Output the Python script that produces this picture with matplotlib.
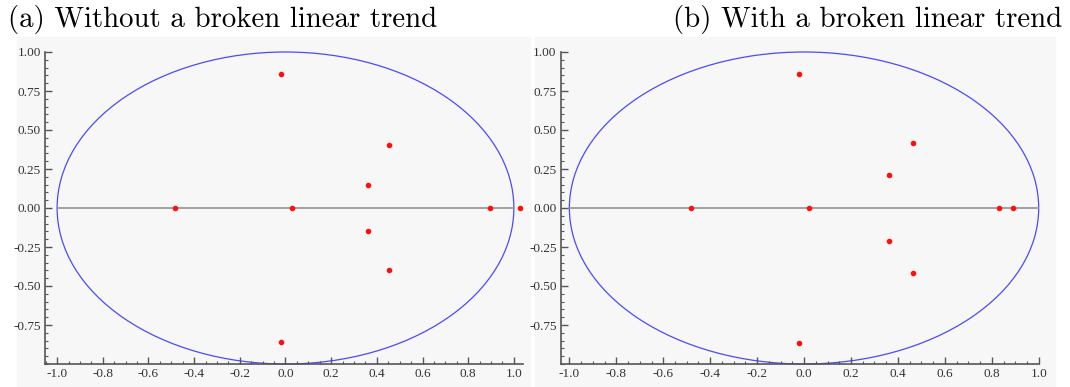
import matplotlib.pyplot as plt
from matplotlib.patches import Circle, Rectangle
from matplotlib.ticker import MultipleLocator, FuncFormatter

re_a = [-0.018, -0.018, 0.452, 0.452, 0.363, 0.363, -0.482, 0.027, 0.896, 1.029]
im_a = [0.861, -0.857, 0.406, -0.400, 0.149, -0.146, 0.0, 0.0, 0.0, 0.0]

re_b = [-0.020, -0.020, 0.464, 0.464, 0.361, 0.361, -0.482, 0.021, 0.830, 0.891]
im_b = [0.862, -0.863, 0.415, -0.414, 0.212, -0.213, 0.0, 0.0, 0.0, 0.0]

titulos = ["(a) Without a broken linear trend", "(b) With a broken linear trend"]
yticks = [-0.75, -0.5, -0.25, 0.0, 0.25, 0.5, 0.75, 1.0]
xticks = [-1.0, -0.8, -0.6, -0.4, -0.2, 0.0, 0.2, 0.4, 0.6, 0.8, 1.0]

W, H = 1070, 387
fig = plt.figure(figsize=(W / 100, H / 100), dpi=100)

# fundos cinza de cada painel
for x0, x1 in [(17, 530), (535, 1055)]:
    fig.patches.append(Rectangle((x0 / W, 0), (x1 - x0) / W, (H - 37) / H,
                                 transform=fig.transFigure, color="#f7f7f7", zorder=-5))

eixo_cor = "#555555"
txt_cor = "#333333"


def painel(ax, re, im, xlim):
    ax.set_xlim(*xlim)
    ax.set_ylim(-1.0, 1.0)
    ax.patch.set_visible(False)
    ax.add_patch(Circle((0, 0), 1, fill=False, ec="#4a4aff", lw=0.9, clip_on=False))
    ax.plot([-1, 1], [0, 0], color="#9a9a9a", lw=1.3, zorder=1)
    ax.scatter(re, im, s=9, color="#ff1010", zorder=3, clip_on=False)
    for s in ["top", "right"]:
        ax.spines[s].set_visible(False)
    for s in ["left", "bottom"]:
        ax.spines[s].set_color(eixo_cor)
        ax.spines[s].set_linewidth(1.2)
    ax.set_xticks(xticks)
    ax.set_yticks(yticks)
    ax.xaxis.set_minor_locator(MultipleLocator(0.05))
    ax.yaxis.set_minor_locator(MultipleLocator(0.05))
    ax.xaxis.set_major_formatter(FuncFormatter(lambda v, p: f"{v:.1f}"))
    ax.yaxis.set_major_formatter(FuncFormatter(lambda v, p: f"{v:.2f}"))
    ax.tick_params(which="major", direction="in", length=5, width=1, color=eixo_cor,
                   labelsize=9.5, labelcolor=txt_cor, pad=3)
    ax.tick_params(which="minor", direction="in", length=2.5, width=0.8, color=eixo_cor)
    for lab in ax.get_xticklabels() + ax.get_yticklabels():
        lab.set_family("Liberation Serif")


bottom = (H - 364) / H
height = 312 / H
ax1 = fig.add_axes([45 / W, bottom, (523 - 45) / W, height])
painel(ax1, re_a, im_a, (-1.053, 1.04))
ax2 = fig.add_axes([560.7 / W, bottom, (1038.7 - 560.7) / W, height])
painel(ax2, re_b, im_b, (-1.037, 1.0))

fig.text(8 / W, 1 - 19 / H, titulos[0], family="cmr10", fontsize=20.8, va="center", ha="left")
fig.text(1062 / W, 1 - 19 / H, titulos[1], family="cmr10", fontsize=20.8, va="center", ha="right")

fig.savefig("out.png", dpi=100)
